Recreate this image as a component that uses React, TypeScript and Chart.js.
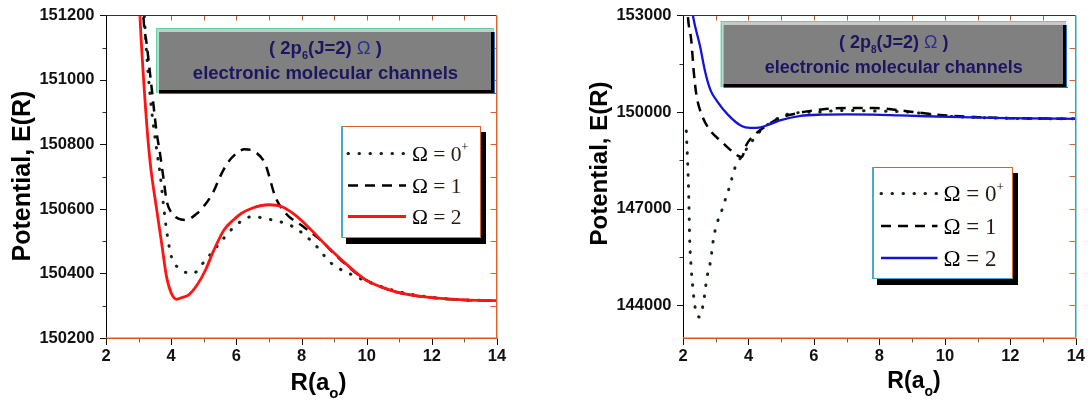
import React, { useEffect, useRef } from "react";
import { Chart, registerables } from "chart.js";

Chart.register(...registerables);

// ---------------- data ----------------
const X_MIN = 2;
const X_MAX = 14;
const X_TICK_STEP = 1;
const X_LABEL_STEP = 2;

const LEFT_Y_MIN = 150200;
const LEFT_Y_MAX = 151200;
const LEFT_Y_TICK_STEP = 100;
const LEFT_Y_LABEL_STEP = 200;

const RIGHT_Y_MIN = 143000;
const RIGHT_Y_MAX = 153000;
const RIGHT_Y_TICK_STEP = 1000;
const RIGHT_Y_LABEL_STEP = 3000;

const SERIES_NAMES = ["Ω = 0", "Ω = 1", "Ω = 2"];
const SERIES_SUPERSCRIPTS = ["+", "", ""];

const LEFT_STATE = "6";
const RIGHT_STATE = "8";
const SUBTITLE = "electronic molecular channels";
const Y_TITLE = "Potential, E(R)";

// Left panel: 2p6(J=2) Omega
const L_R_OMEGA0 = [3.12, 3.18, 3.25, 3.35, 3.45, 3.56, 3.66, 3.76, 3.86, 4.01, 4.27, 4.65, 5.04, 5.4, 5.94, 6.47, 7.1, 7.74, 8.38, 8.91, 9.55, 10.29, 11.0, 12.0, 13.0, 14.0];
const L_E_OMEGA0 = [151300, 151192, 151079, 150955, 150863, 150780, 150708, 150616, 150533, 150451, 150415, 150399, 150440, 150483, 150545, 150576, 150566, 150545, 150493, 150432, 150396, 150365, 150343, 150326, 150318, 150316];

const L_R_OMEGA1 = [3.1, 3.15, 3.25, 3.4, 3.55, 3.66, 3.76, 3.86, 4.0, 4.22, 4.45, 4.78, 5.0, 5.29, 5.5, 5.72, 6.0, 6.25, 6.57, 6.88, 7.2, 7.52, 8.06, 8.59, 9.0, 9.5, 9.97, 10.5, 11.0, 12.0, 13.0, 14.0];
const L_E_OMEGA1 = [151300, 151192, 151110, 150976, 150840, 150770, 150698, 150626, 150590, 150570, 150566, 150585, 150608, 150652, 150700, 150741, 150772, 150785, 150777, 150741, 150637, 150586, 150545, 150503, 150462, 150415, 150380, 150356, 150340, 150325, 150318, 150316];

const L_R_OMEGA2 = [3.0, 3.04, 3.22, 3.35, 3.56, 3.71, 3.86, 4.0, 4.17, 4.35, 4.53, 4.8, 5.05, 5.3, 5.62, 5.9, 6.15, 6.5, 7.0, 7.4, 7.74, 8.2, 8.7, 9.2, 9.97, 10.5, 10.93, 11.5, 11.98, 13.0, 14.0];
const L_E_OMEGA2 = [151300, 151200, 150904, 150749, 150595, 150492, 150389, 150340, 150320, 150326, 150333, 150365, 150410, 150470, 150535, 150565, 150586, 150603, 150613, 150607, 150586, 150545, 150493, 150445, 150380, 150356, 150342, 150331, 150325, 150318, 150316];

// Right panel: 2p8(J=2) Omega
const R_R_OMEGA0 = [2.1, 2.15, 2.18, 2.2, 2.25, 2.31, 2.36, 2.49, 2.62, 2.73, 2.84, 2.94, 3.05, 3.18, 3.31, 3.44, 3.58, 3.81, 4.05, 4.32, 4.74, 5.38, 6.23, 6.76, 7.82, 8.88, 9.94, 11.0, 12.0, 14.0];
const R_E_OMEGA0 = [149413, 148197, 147184, 146170, 145157, 144449, 143992, 143637, 144044, 144853, 145360, 146120, 146576, 146932, 147336, 147740, 148248, 148653, 149008, 149364, 149717, 149970, 150000, 150050, 150030, 150000, 149880, 149830, 149805, 149790];

const R_R_OMEGA1 = [2.1, 2.15, 2.25, 2.33, 2.41, 2.57, 2.84, 3.15, 3.47, 3.79, 3.95, 4.21, 4.53, 4.96, 5.49, 6.23, 7.07, 7.82, 8.88, 9.94, 11.0, 12.0, 14.0];
const R_E_OMEGA1 = [154000, 152960, 152252, 151237, 150528, 149920, 149413, 149109, 148805, 148603, 149008, 149313, 149565, 149819, 149960, 150082, 150124, 150124, 150020, 149900, 149840, 149810, 149790];

const R_R_OMEGA2 = [2.25, 2.31, 2.52, 2.68, 2.84, 3.05, 3.37, 3.79, 4.05, 4.32, 4.6, 4.96, 5.59, 6.23, 7.0, 7.82, 8.6, 9.41, 10.5, 11.52, 12.5, 14.0];
const R_E_OMEGA2 = [153400, 152960, 152048, 151237, 150681, 150325, 149920, 149565, 149510, 149516, 149600, 149738, 149880, 149920, 149930, 149920, 149895, 149869, 149840, 149820, 149800, 149790];

// ---------------- styles / layout ----------------
const SANS = "'Liberation Sans', Arial, sans-serif";
const SERIF = "'Liberation Serif', 'Times New Roman', serif";

type SeriesStyle = { color: string; width: number; dash: number[]; cap: CanvasLineCap; order: number };

const STYLE_DOT: SeriesStyle = { color: "#132613", width: 3, dash: [0.5, 10.5], cap: "round", order: 2 };
const STYLE_DASH: SeriesStyle = { color: "#000000", width: 2.5, dash: [10, 7], cap: "butt", order: 1 };
const STYLE_RED: SeriesStyle = { color: "#ff1414", width: 2.8, dash: [], cap: "butt", order: 0 };
const STYLE_BLUE: SeriesStyle = { color: "#1414d8", width: 2.3, dash: [], cap: "butt", order: 0 };

type Box = { x: number; y: number; w: number; h: number };
type Layout = {
  left: number;
  width: number;
  height: number;
  padTop: number;
  padRight: number;
  yAxisWidth: number;
  xAxisHeight: number;
  yMin: number;
  yMax: number;
  yTickStep: number;
  yLabelStep: number;
  yLeftTickStep: number;
  yRightTickStep: number;
  titleBox: Box;
  titleCx: number;
  line1Base: number;
  line2Base: number;
  titleFont: number;
  state: string;
  legendBox: Box;
  legendRows: number[];
  sampleX: [number, number];
  textX: number;
  legendFont: number;
  yTitleX: number;
  yTitleY: number;
  yTitleSize: number;
  xTitleCx: number;
  xTitleBase: number;
  xTitleSize: number;
};

const LEFT_LAYOUT: Layout = {
  left: 0, width: 544, height: 403,
  padTop: 14, padRight: 47, yAxisWidth: 106, xAxisHeight: 65,
  yMin: LEFT_Y_MIN, yMax: LEFT_Y_MAX, yTickStep: LEFT_Y_TICK_STEP, yLabelStep: LEFT_Y_LABEL_STEP,
  yLeftTickStep: 100, yRightTickStep: 100,
  titleBox: { x: 157, y: 29, w: 337, h: 64 }, titleCx: 325.5, line1Base: 54, line2Base: 79, titleFont: 18.5,
  state: LEFT_STATE,
  legendBox: { x: 341, y: 126, w: 140, h: 112 }, legendRows: [153, 185, 216], sampleX: [348, 406], textX: 412, legendFont: 21.5,
  yTitleX: 30, yTitleY: 176, yTitleSize: 25,
  xTitleCx: 318.5, xTitleBase: 390, xTitleSize: 24,
};

const RIGHT_LAYOUT: Layout = {
  left: 544, width: 544, height: 403,
  padTop: 9.5, padRight: 11, yAxisWidth: 139, xAxisHeight: 65.5,
  yMin: RIGHT_Y_MIN, yMax: RIGHT_Y_MAX, yTickStep: RIGHT_Y_TICK_STEP, yLabelStep: RIGHT_Y_LABEL_STEP,
  yLeftTickStep: 1500, yRightTickStep: 1000,
  titleBox: { x: 177.6, y: 22, w: 344.4, h: 65 }, titleCx: 349.8, line1Base: 47.5, line2Base: 73, titleFont: 18,
  state: RIGHT_STATE,
  legendBox: { x: 328, y: 167, w: 141, h: 112 }, legendRows: [193, 225.5, 257.5], sampleX: [337, 393.5], textX: 399.5, legendFont: 23,
  yTitleX: 63, yTitleY: 163.5, yTitleSize: 24,
  xTitleCx: 370, xTitleBase: 388, xTitleSize: 23,
};

type Seg = { t: string; font: string; dy?: number; color?: string };

function drawSegs(ctx: CanvasRenderingContext2D, segs: Seg[], x: number, y: number, align: "left" | "center") {
  ctx.textAlign = "left";
  ctx.textBaseline = "alphabetic";
  const widths = segs.map((s) => {
    ctx.font = s.font;
    return ctx.measureText(s.t).width;
  });
  const total = widths.reduce((a, b) => a + b, 0);
  let cx = align === "center" ? x - total / 2 : x;
  segs.forEach((s, i) => {
    ctx.font = s.font;
    ctx.fillStyle = s.color || "#000";
    ctx.fillText(s.t, cx, y + (s.dy || 0));
    cx += widths[i];
  });
}

function makeDecor(L: Layout, styles: SeriesStyle[]) {
  return {
    id: "decor",
    afterDraw(chart: any) {
      const ctx: CanvasRenderingContext2D = chart.ctx;
      const a = chart.chartArea;
      const xs = chart.scales.x;
      const ys = chart.scales.y;
      ctx.save();
      const seg = (x1: number, y1: number, x2: number, y2: number, color: string, w = 1) => {
        ctx.beginPath();
        ctx.setLineDash([]);
        ctx.lineCap = "butt";
        ctx.strokeStyle = color;
        ctx.lineWidth = w;
        ctx.moveTo(x1, y1);
        ctx.lineTo(x2, y2);
        ctx.stroke();
      };
      const top = Math.round(a.top) + 0.5;
      const bottom = Math.round(a.bottom) + 0.5;
      const left = Math.round(a.left) + 0.5;
      const right = Math.round(a.right) - 0.5;

      // x ticks (bottom outward, top inward)
      for (let v = X_MIN; v <= X_MAX + 1e-9; v += X_TICK_STEP) {
        const px = Math.round(xs.getPixelForValue(v)) + 0.5;
        const major = Math.abs(v % X_LABEL_STEP) < 1e-9;
        seg(px, bottom, px, bottom + (major ? 6.5 : 4), major ? "#111" : "#2f7a4f");
        if (v > X_MIN && v < X_MAX) seg(px, top, px, top + 5, "#b0603a");
      }
      // left y ticks (outward)
      const startL = Math.ceil(L.yMin / L.yLeftTickStep - 1e-9) * L.yLeftTickStep;
      for (let v = startL; v <= L.yMax + 1e-6; v += L.yLeftTickStep) {
        const py = Math.round(ys.getPixelForValue(v)) + 0.5;
        const major = Math.abs(v % L.yLabelStep) < 1e-6;
        seg(left - (major ? 6.5 : 4), py, left, py, major ? "#111" : "#333");
      }
      // right y ticks (inward)
      const startR = Math.ceil(L.yMin / L.yRightTickStep - 1e-9) * L.yRightTickStep;
      for (let v = startR; v <= L.yMax + 1e-6; v += L.yRightTickStep) {
        if (v <= L.yMin || v >= L.yMax) continue;
        const py = Math.round(ys.getPixelForValue(v)) + 0.5;
        seg(right - 6, py, right, py, "#d8602c");
      }
      // frame
      seg(left, top, right, top, "#333");
      seg(left, a.top, left, a.bottom + 1, "#000");
      seg(left, bottom - 1, right + 1, bottom - 1, "#7fd3e6");
      seg(left, bottom, right + 1, bottom, "#d9541e");
      seg(right, a.top, right, a.bottom, "#e0602a");
      seg(right + 1, a.top, right + 1, a.bottom, "#8fd8ea");

      // title box (bevelled grey panel)
      const b = L.titleBox;
      ctx.fillStyle = "#5fd0a0";
      ctx.fillRect(b.x - 1, b.y - 1, b.w + 1, b.h + 1);
      ctx.fillStyle = "#808080";
      ctx.fillRect(b.x, b.y, b.w, b.h);
      ctx.fillStyle = "#c9c9c9";
      ctx.fillRect(b.x, b.y, b.w, 3);
      ctx.fillStyle = "#b9d8cf";
      ctx.fillRect(b.x, b.y, 2, b.h);
      ctx.fillStyle = "#000";
      ctx.fillRect(b.x + 2, b.y + b.h - 3, b.w - 2, 3);
      ctx.fillRect(b.x + b.w - 3, b.y + 3, 3, b.h - 3);
      ctx.fillStyle = "#c4411c";
      ctx.fillRect(b.x + 2, b.y + b.h, b.w, 1);
      ctx.fillStyle = "#2a6fd0";
      ctx.fillRect(b.x + b.w, b.y + 3, 1, b.h - 2);

      const tf = L.titleFont;
      const navy = "#1c1560";
      drawSegs(
        ctx,
        [
          { t: "( 2p", font: `bold ${tf}px ${SANS}`, color: navy },
          { t: L.state, font: `bold ${Math.round(tf * 0.58)}px ${SANS}`, dy: 5, color: navy },
          { t: "(J=2) ", font: `bold ${tf}px ${SANS}`, color: navy },
          { t: "Ω", font: `${tf}px ${SANS}`, color: "#2c2c9a" },
          { t: " )", font: `bold ${tf}px ${SANS}`, color: navy },
        ],
        L.titleCx,
        L.line1Base,
        "center"
      );
      drawSegs(ctx, [{ t: SUBTITLE, font: `bold ${tf}px ${SANS}`, color: navy }], L.titleCx, L.line2Base, "center");

      // legend box with shadow
      const g = L.legendBox;
      ctx.fillStyle = "#000";
      ctx.fillRect(g.x + 5, g.y + 6, g.w, g.h);
      ctx.fillStyle = "#fff";
      ctx.fillRect(g.x, g.y, g.w, g.h);
      ctx.fillStyle = "#d9622b";
      ctx.fillRect(g.x, g.y, g.w, 1);
      ctx.fillRect(g.x + g.w - 1, g.y, 1, g.h);
      ctx.fillStyle = "#4aa8d0";
      ctx.fillRect(g.x, g.y, 2, g.h);
      ctx.fillRect(g.x, g.y + g.h - 1, g.w, 1);

      styles.forEach((s, i) => {
        const ry = L.legendRows[i] + 0.5;
        ctx.beginPath();
        ctx.strokeStyle = s.color;
        ctx.lineWidth = s.width;
        ctx.setLineDash(s.dash);
        ctx.lineCap = s.cap;
        ctx.moveTo(L.sampleX[0], ry);
        ctx.lineTo(L.sampleX[1], ry);
        ctx.stroke();
        ctx.setLineDash([]);
        const lf = L.legendFont;
        const name = SERIES_NAMES[i];
        const segs: Seg[] = [
          { t: name.slice(0, 1), font: `${lf}px ${SERIF}`, color: "#000" },
          { t: name.slice(1), font: `${lf}px ${SERIF}`, color: "#2a1a10" },
        ];
        if (SERIES_SUPERSCRIPTS[i]) segs.push({ t: SERIES_SUPERSCRIPTS[i], font: `${Math.round(lf * 0.55)}px ${SERIF}`, dy: -lf * 0.45, color: "#000" });
        drawSegs(ctx, segs, L.textX, L.legendRows[i] + 8, "left");
      });

      // axis titles
      ctx.save();
      ctx.translate(L.yTitleX, L.yTitleY);
      ctx.rotate(-Math.PI / 2);
      ctx.font = `bold ${L.yTitleSize}px ${SANS}`;
      ctx.fillStyle = "#000";
      ctx.textAlign = "center";
      ctx.textBaseline = "alphabetic";
      ctx.fillText(Y_TITLE, 0, 0);
      ctx.restore();

      const xt = L.xTitleSize;
      drawSegs(
        ctx,
        [
          { t: "R(a", font: `bold ${xt}px ${SANS}` },
          { t: "o", font: `bold ${Math.round(xt * 0.62)}px ${SANS}`, dy: 8 },
          { t: ")", font: `bold ${xt}px ${SANS}` },
        ],
        L.xTitleCx,
        L.xTitleBase,
        "center"
      );
      ctx.restore();
    },
  };
}

function buildConfig(L: Layout, series: { r: number[]; e: number[]; style: SeriesStyle }[]) {
  const tickFont = { family: SANS, size: 16.5, weight: "bold" as const };
  return {
    type: "line" as const,
    data: {
      datasets: series.map((s, i) => ({
        label: SERIES_NAMES[i],
        data: s.r.map((r, k) => ({ x: r, y: s.e[k] })),
        borderColor: s.style.color,
        borderWidth: s.style.width,
        borderDash: s.style.dash,
        borderCapStyle: s.style.cap,
        order: s.style.order,
        pointRadius: 0,
        fill: false,
        cubicInterpolationMode: "monotone" as const,
      })),
    },
    options: {
      responsive: false,
      animation: false as const,
      devicePixelRatio: 1,
      layout: { padding: { left: 0, top: L.padTop, right: L.padRight, bottom: 0 } },
      plugins: { legend: { display: false }, tooltip: { enabled: false }, title: { display: false } },
      scales: {
        x: {
          type: "linear" as const,
          min: X_MIN,
          max: X_MAX,
          afterFit: (s: any) => {
            s.height = L.xAxisHeight;
          },
          grid: { display: true, drawOnChartArea: false, drawTicks: true, tickLength: 6, color: "rgba(0,0,0,0)" },
          border: { display: false },
          ticks: {
            stepSize: X_TICK_STEP,
            autoSkip: false,
            maxRotation: 0,
            padding: 3,
            font: tickFont,
            color: "#111",
            callback: (v: any) => (Math.abs(Number(v) % X_LABEL_STEP) < 1e-9 ? String(v) : ""),
          },
        },
        y: {
          type: "linear" as const,
          min: L.yMin,
          max: L.yMax,
          afterFit: (s: any) => {
            s.width = L.yAxisWidth;
          },
          grid: { display: true, drawOnChartArea: false, drawTicks: true, tickLength: 6, color: "rgba(0,0,0,0)" },
          border: { display: false },
          ticks: {
            stepSize: L.yTickStep,
            autoSkip: false,
            padding: 5.5,
            font: tickFont,
            color: "#111",
            callback: (v: any) => (Math.abs(Number(v) % L.yLabelStep) < 1e-6 ? String(v) : ""),
          },
        },
      },
    },
    plugins: [makeDecor(L, series.map((s) => s.style))],
  };
}

function Panel({ layout, series }: { layout: Layout; series: { r: number[]; e: number[]; style: SeriesStyle }[] }) {
  const ref = useRef<HTMLCanvasElement | null>(null);
  useEffect(() => {
    if (!ref.current) return;
    const chart = new Chart(ref.current, buildConfig(layout, series) as any);
    return () => chart.destroy();
  }, []);
  return (
    <canvas
      ref={ref}
      width={layout.width}
      height={layout.height}
      style={{ position: "absolute", left: layout.left, top: 0, width: layout.width, height: layout.height }}
    />
  );
}

const LEFT_SERIES = [
  { r: L_R_OMEGA0, e: L_E_OMEGA0, style: STYLE_DOT },
  { r: L_R_OMEGA1, e: L_E_OMEGA1, style: STYLE_DASH },
  { r: L_R_OMEGA2, e: L_E_OMEGA2, style: STYLE_RED },
];
const RIGHT_SERIES = [
  { r: R_R_OMEGA0, e: R_E_OMEGA0, style: STYLE_DOT },
  { r: R_R_OMEGA1, e: R_E_OMEGA1, style: STYLE_DASH },
  { r: R_R_OMEGA2, e: R_E_OMEGA2, style: STYLE_BLUE },
];

export default function App() {
  return (
    <div style={{ position: "fixed", left: 0, top: 0, width: 1088, height: 403, background: "#fff", overflow: "hidden" }}>
      <Panel layout={LEFT_LAYOUT} series={LEFT_SERIES} />
      <Panel layout={RIGHT_LAYOUT} series={RIGHT_SERIES} />
    </div>
  );
}
